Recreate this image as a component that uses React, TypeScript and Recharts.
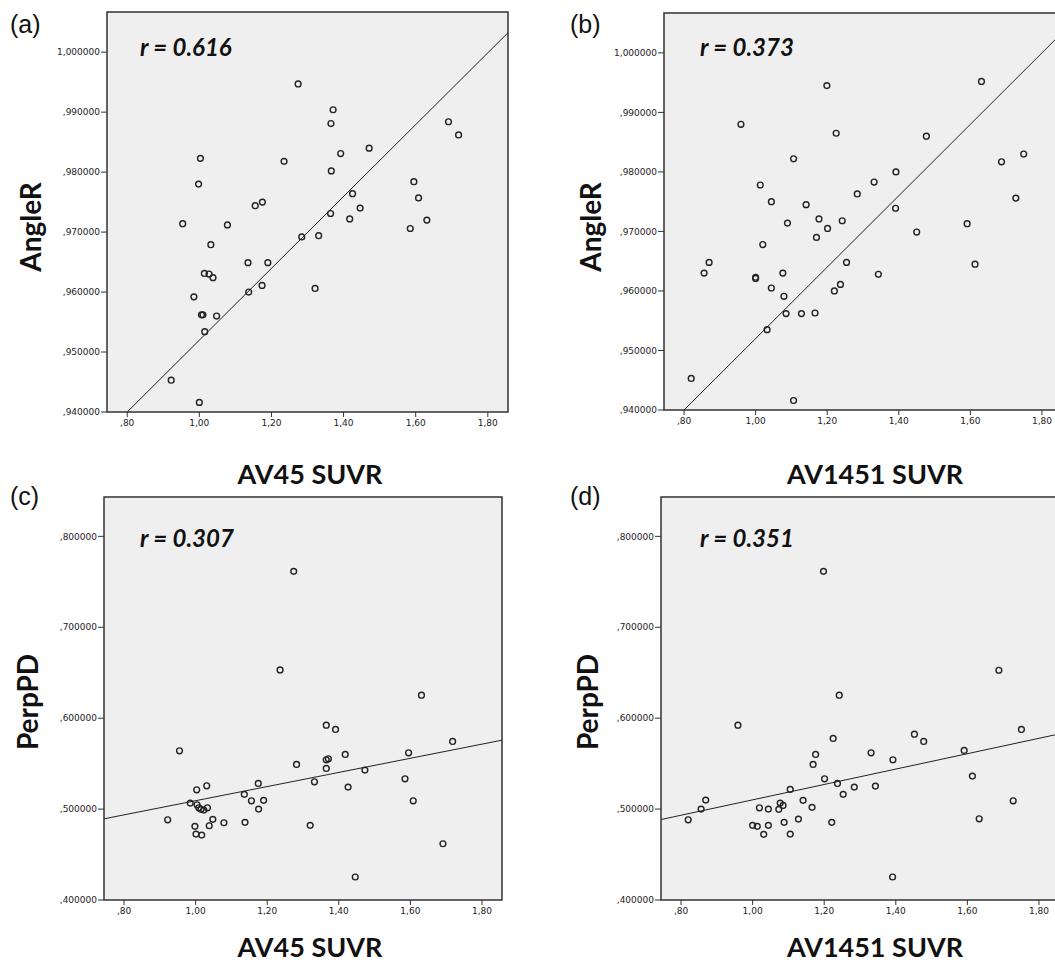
import {
  ScatterChart,
  Scatter,
  XAxis,
  YAxis,
  ReferenceArea,
  ReferenceLine,
} from "recharts";

// [SUVR, value] pairs
const angleVsAv45: [number, number][] = [
  [0.922, 0.9453], [1.0, 0.9416], [1.003, 0.9823], [0.998, 0.978], [0.954, 0.9714],
  [1.078, 0.9712], [1.032, 0.9679], [1.014, 0.9631], [1.027, 0.963], [1.038, 0.9624],
  [0.985, 0.9592], [1.006, 0.9562], [1.01, 0.9562], [1.048, 0.956], [1.015, 0.9534],
  [1.135, 0.9649], [1.137, 0.96], [1.155, 0.9744], [1.175, 0.975], [1.19, 0.9649],
  [1.174, 0.9611], [1.235, 0.9818], [1.274, 0.9947], [1.371, 0.9904], [1.365, 0.9881],
  [1.392, 0.9831], [1.471, 0.984], [1.366, 0.9802], [1.425, 0.9764], [1.446, 0.974],
  [1.417, 0.9722], [1.364, 0.9731], [1.284, 0.9692], [1.331, 0.9694], [1.321, 0.9606],
  [1.595, 0.9784], [1.608, 0.9757], [1.631, 0.972], [1.585, 0.9706], [1.691, 0.9884],
  [1.719, 0.9862],
];

const angleVsAv1451: [number, number][] = [
  [0.82, 0.9453], [0.959, 0.988], [0.856, 0.963], [0.87, 0.9648], [1.0, 0.9623],
  [1.0, 0.9621], [1.013, 0.9778], [1.02, 0.9678], [1.044, 0.975], [1.044, 0.9605],
  [1.032, 0.9535], [1.089, 0.9714], [1.076, 0.963], [1.079, 0.9591], [1.085, 0.9562],
  [1.106, 0.9822], [1.106, 0.9416], [1.128, 0.9562], [1.141, 0.9745], [1.166, 0.9563],
  [1.17, 0.969], [1.177, 0.9721], [1.201, 0.9705], [1.199, 0.9945], [1.225, 0.9865],
  [1.242, 0.9718], [1.254, 0.9648], [1.237, 0.9611], [1.22, 0.96], [1.284, 0.9763],
  [1.331, 0.9783], [1.343, 0.9628], [1.392, 0.98], [1.391, 0.9739], [1.45, 0.9699],
  [1.477, 0.986], [1.591, 0.9713], [1.613, 0.9645], [1.631, 0.9952], [1.687, 0.9817],
  [1.727, 0.9756], [1.749, 0.983],
];

const perpVsAv45: [number, number][] = [
  [0.922, 0.4882], [0.955, 0.5641], [0.985, 0.5066], [1.003, 0.5212], [1.004, 0.5047],
  [1.009, 0.5014], [1.015, 0.4997], [1.023, 0.4989], [1.033, 0.5014], [1.031, 0.5256],
  [0.998, 0.481], [1.001, 0.4725], [1.017, 0.4714], [1.038, 0.4817], [1.048, 0.4887],
  [1.079, 0.485], [1.138, 0.4854], [1.136, 0.5162], [1.156, 0.5091], [1.175, 0.5282],
  [1.176, 0.5], [1.19, 0.5096], [1.236, 0.6531], [1.274, 0.7615], [1.282, 0.5491],
  [1.332, 0.53], [1.32, 0.4821], [1.365, 0.5923], [1.391, 0.5876], [1.365, 0.5542],
  [1.371, 0.5553], [1.365, 0.5447], [1.418, 0.5601], [1.426, 0.5242], [1.473, 0.5429],
  [1.446, 0.4253], [1.585, 0.5333], [1.595, 0.5619], [1.608, 0.5091], [1.631, 0.6253],
  [1.691, 0.4619], [1.718, 0.5744],
];

const perpVsAv1451: [number, number][] = [
  [0.82, 0.4882], [0.856, 0.5], [0.869, 0.5099], [0.959, 0.5923], [1.0, 0.4821],
  [1.013, 0.481], [1.019, 0.5014], [1.031, 0.4722], [1.044, 0.5], [1.044, 0.4821],
  [1.073, 0.4997], [1.077, 0.5066], [1.085, 0.504], [1.088, 0.4854], [1.105, 0.4725],
  [1.105, 0.5216], [1.128, 0.489], [1.141, 0.5096], [1.166, 0.5019], [1.169, 0.5491],
  [1.176, 0.5601], [1.198, 0.7615], [1.201, 0.5333], [1.221, 0.4854], [1.225, 0.5777],
  [1.237, 0.5282], [1.242, 0.6253], [1.253, 0.5162], [1.284, 0.5242], [1.331, 0.5619],
  [1.343, 0.5253], [1.392, 0.5542], [1.391, 0.4253], [1.452, 0.5824], [1.478, 0.5744],
  [1.591, 0.5645], [1.614, 0.5363], [1.633, 0.4893], [1.688, 0.6527], [1.728, 0.5091],
  [1.751, 0.5876],
];

// fit line end points
const fitA: [number, number][] = [[0.8, 0.94], [1.856, 1.00325]];
const fitB: [number, number][] = [[0.8, 0.94], [1.856, 1.00336]];
const fitC: [number, number][] = [[0.744, 0.4893], [1.856, 0.5758]];
const fitD: [number, number][] = [[0.744, 0.4885], [1.856, 0.5826]];

const X_TICKS = [0.8, 1.0, 1.2, 1.4, 1.6, 1.8];
const X_DOMAIN: [number, number] = [0.744, 1.856];
const ANGLE_TICKS = [0.94, 0.95, 0.96, 0.97, 0.98, 0.99, 1.0];
const ANGLE_DOMAIN: [number, number] = [0.94, 1.0067];
const PERP_TICKS = [0.4, 0.5, 0.6, 0.7, 0.8];
const PERP_DOMAIN: [number, number] = [0.4, 0.8433];

// SPSS style: comma decimal, leading zero dropped
const spss = (digits: number) => (v: number) => {
  const s = v.toFixed(digits).replace(".", ",");
  return s.startsWith("0,") ? s.slice(1) : s;
};

const FONT = "Lato, 'Open Sans', sans-serif";
const BG = "#efefef";
const INK = "#222";

const Ring = (props: any) => {
  if (props.cx == null || props.cy == null) return null;
  return <circle cx={props.cx} cy={props.cy} r={2.9} fill="none" stroke={INK} strokeWidth={1.4} />;
};

interface PanelProps {
  data: [number, number][];
  fit: [number, number][];
  yDomain: [number, number];
  yTicks: number[];
  yDigits: number;
  left: number; // plot area position on the page
  top: number;
  w: number;
  h: number;
}

const AXIS_W = 70;
const PAD = 10;
const XAXIS_H = 30;

function Panel({ data, fit, yDomain, yTicks, yDigits, left, top, w, h }: PanelProps) {
  const pts = data.map(([x, y]) => ({ x, y }));
  return (
    <div style={{ position: "absolute", left: left - AXIS_W, top: top - PAD }}>
      <ScatterChart
        width={AXIS_W + w + PAD}
        height={PAD + h + XAXIS_H}
        margin={{ top: PAD, right: PAD, bottom: 0, left: 0 }}
      >
        <ReferenceArea
          x1={X_DOMAIN[0]}
          x2={X_DOMAIN[1]}
          y1={yDomain[0]}
          y2={yDomain[1]}
          fill={BG}
          fillOpacity={1}
          stroke="#333"
          strokeWidth={1.5}
        />
        <XAxis
          type="number"
          dataKey="x"
          domain={X_DOMAIN}
          ticks={X_TICKS}
          allowDataOverflow
          tickFormatter={spss(2)}
          tick={{ fontSize: 9, fill: INK, fontFamily: "DejaVu Sans" }}
          tickSize={5}
          tickMargin={3}
          axisLine={false}
          tickLine={{ stroke: "#333" }}
          height={XAXIS_H}
        />
        <YAxis
          type="number"
          dataKey="y"
          domain={yDomain}
          ticks={yTicks}
          allowDataOverflow
          tickFormatter={spss(yDigits)}
          tick={{ fontSize: 9, fill: INK, fontFamily: "DejaVu Sans" }}
          tickSize={6}
          tickMargin={1}
          axisLine={false}
          tickLine={{ stroke: "#333" }}
          width={AXIS_W}
        />
        <ReferenceLine
          segment={fit.map(([x, y]) => ({ x, y }))}
          stroke={INK}
          strokeWidth={1}
          ifOverflow="visible"
        />
        <Scatter data={pts} shape={<Ring />} isAnimationActive={false} />
      </ScatterChart>
    </div>
  );
}

const tag = (text: string, left: number, top: number) => (
  <div
    style={{
      position: "absolute",
      left,
      top,
      fontFamily: "'Liberation Sans', Arial, sans-serif",
      fontSize: 25,
      lineHeight: 1,
      color: "#111",
    }}
  >
    {text}
  </div>
);

const rText = (text: string, left: number, top: number) => (
  <div
    style={{
      position: "absolute",
      left,
      top,
      fontFamily: FONT,
      fontSize: 24,
      fontWeight: 700,
      fontStyle: "italic",
      lineHeight: 1,
      color: "#111",
    }}
  >
    {text}
  </div>
);

const xTitle = (text: string, cx: number, cy: number) => (
  <div
    style={{
      position: "absolute",
      left: cx,
      top: cy,
      transform: "translate(-50%, -50%)",
      fontFamily: FONT,
      fontSize: 27,
      fontWeight: 700,
      lineHeight: 1,
      whiteSpace: "nowrap",
      color: "#111",
    }}
  >
    {text}
  </div>
);

const yTitle = (text: string, cx: number, cy: number) => (
  <div
    style={{
      position: "absolute",
      left: cx,
      top: cy,
      transform: "translate(-50%, -50%) rotate(-90deg)",
      fontFamily: FONT,
      fontSize: 28,
      fontWeight: 700,
      lineHeight: 1,
      whiteSpace: "nowrap",
      color: "#111",
    }}
  >
    {text}
  </div>
);

export default function App() {
  return (
    <div
      style={{
        position: "absolute",
        left: 0,
        top: 0,
        width: 1055,
        height: 963,
        overflow: "hidden",
        background: "#fff",
      }}
    >
      <Panel data={angleVsAv45} fit={fitA} yDomain={ANGLE_DOMAIN} yTicks={ANGLE_TICKS} yDigits={6}
        left={107} top={12} w={401} h={400} />
      <Panel data={angleVsAv1451} fit={fitB} yDomain={ANGLE_DOMAIN} yTicks={ANGLE_TICKS} yDigits={6}
        left={664} top={13} w={398} h={397} />
      <Panel data={perpVsAv45} fit={fitC} yDomain={PERP_DOMAIN} yTicks={PERP_TICKS} yDigits={6}
        left={104} top={497} w={398} h={403} />
      <Panel data={perpVsAv1451} fit={fitD} yDomain={PERP_DOMAIN} yTicks={PERP_TICKS} yDigits={6}
        left={661} top={497} w={398} h={403} />

      {tag("(a)", 10, 12)}
      {tag("(b)", 570, 12)}
      {tag("(c)", 10, 484)}
      {tag("(d)", 570, 484)}

      {rText("r = 0.616", 140, 35)}
      {rText("r = 0.373", 700, 35)}
      {rText("r = 0.307", 140, 526)}
      {rText("r = 0.351", 700, 526)}

      {yTitle("AngleR", 30, 227)}
      {yTitle("AngleR", 590, 227)}
      {yTitle("PerpPD", 27, 702)}
      {yTitle("PerpPD", 587, 702)}

      {xTitle("AV45 SUVR", 310, 473)}
      {xTitle("AV1451 SUVR", 875, 473)}
      {xTitle("AV45 SUVR", 310, 946)}
      {xTitle("AV1451 SUVR", 875, 946)}
    </div>
  );
}
